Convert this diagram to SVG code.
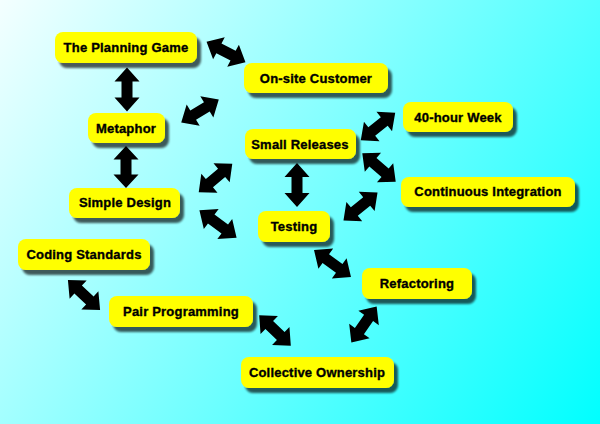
<svg xmlns="http://www.w3.org/2000/svg" xmlns:xlink="http://www.w3.org/1999/xlink" width="600" height="424" viewBox="0 0 600 424">
<defs>
<linearGradient id="bg" x1="0" y1="0" x2="600" y2="424" gradientUnits="userSpaceOnUse">
<stop offset="0" stop-color="#f4ffff"/>
<stop offset="1" stop-color="#00ffff"/>
</linearGradient>
<filter id="sh" x="-10%" y="-20%" width="130%" height="160%">
<feGaussianBlur in="SourceAlpha" stdDeviation="1"/>
<feOffset dx="4" dy="5" result="o"/>
<feComponentTransfer><feFuncA type="linear" slope="0.65"/></feComponentTransfer>
<feMerge><feMergeNode/><feMergeNode in="SourceGraphic"/></feMerge>
</filter>
<path id="arr" d="M-22,0 L-8,-12.5 L-8,-5.5 L8,-5.5 L8,-12.5 L22,0 L8,12.5 L8,5.5 L-8,5.5 L-8,12.5 Z"/>
</defs>
<style>
.box{fill:#ffff00;filter:url(#sh)}
.lbl{font-family:"Liberation Sans",Arial,sans-serif;font-weight:bold;font-size:13px;fill:#000;stroke:#000;stroke-width:0.35px;text-anchor:middle;letter-spacing:0.2px}
.a{fill:#000}
</style>
<rect x="0" y="0" width="600" height="424" fill="url(#bg)"/>
<g id="connectors" class="a">
<use xlink:href="#arr" transform="translate(226,52) rotate(27.8)"/>
<use xlink:href="#arr" transform="translate(127,89.5) rotate(90)"/>
<use xlink:href="#arr" transform="translate(200,111) rotate(-31.4)"/>
<use xlink:href="#arr" transform="translate(126,167) rotate(90) scale(0.95,1)"/>
<use xlink:href="#arr" transform="translate(378,126.5) rotate(-38.5)"/>
<use xlink:href="#arr" transform="translate(379,167.5) rotate(40.5)"/>
<use xlink:href="#arr" transform="translate(360.5,206.5) rotate(-39.3)"/>
<use xlink:href="#arr" transform="translate(297,185) rotate(90)"/>
<use xlink:href="#arr" transform="translate(215.5,178) rotate(-40.3)"/>
<use xlink:href="#arr" transform="translate(218,224) rotate(36.4) scale(1.05,1)"/>
<use xlink:href="#arr" transform="translate(332.5,263.5) rotate(36.1) scale(1.04,1)"/>
<use xlink:href="#arr" transform="translate(84,295) rotate(43)"/>
<use xlink:href="#arr" transform="translate(275,330.5) rotate(44)"/>
<use xlink:href="#arr" transform="translate(364,324.5) rotate(-54.9)"/>
</g>
<g id="planning-game"><rect class="box" x="55" y="32" width="142" height="31" rx="8"/><text class="lbl" x="126" y="52">The Planning Game</text></g>
<g id="onsite-customer"><rect class="box" x="244" y="63" width="144" height="30" rx="8"/><text class="lbl" x="316" y="83">On-site Customer</text></g>
<g id="metaphor"><rect class="box" x="88" y="113" width="77" height="30" rx="8"/><text class="lbl" x="126" y="133">Metaphor</text></g>
<g id="small-releases"><rect class="box" x="245" y="129" width="111" height="30" rx="8"/><text class="lbl" x="300" y="149">Small Releases</text></g>
<g id="forty-hour-week"><rect class="box" x="403" y="102" width="110" height="30" rx="8"/><text class="lbl" x="458" y="122">40-hour Week</text></g>
<g id="continuous-integration"><rect class="box" x="401" y="177" width="174" height="30" rx="8"/><text class="lbl" x="488" y="196">Continuous Integration</text></g>
<g id="simple-design"><rect class="box" x="69" y="188" width="111" height="30" rx="8"/><text class="lbl" x="125" y="207">Simple Design</text></g>
<g id="testing"><rect class="box" x="258" y="211" width="72" height="31" rx="8"/><text class="lbl" x="294" y="231">Testing</text></g>
<g id="coding-standards"><rect class="box" x="18" y="239" width="132" height="31" rx="8"/><text class="lbl" x="84" y="259">Coding Standards</text></g>
<g id="pair-programming"><rect class="box" x="109" y="296" width="144" height="31" rx="8"/><text class="lbl" x="181" y="316">Pair Programming</text></g>
<g id="refactoring"><rect class="box" x="362" y="268" width="110" height="31" rx="8"/><text class="lbl" x="417" y="288">Refactoring</text></g>
<g id="collective-ownership"><rect class="box" x="241" y="357" width="153" height="31" rx="8"/><text class="lbl" x="317" y="377">Collective Ownership</text></g>
</svg>
